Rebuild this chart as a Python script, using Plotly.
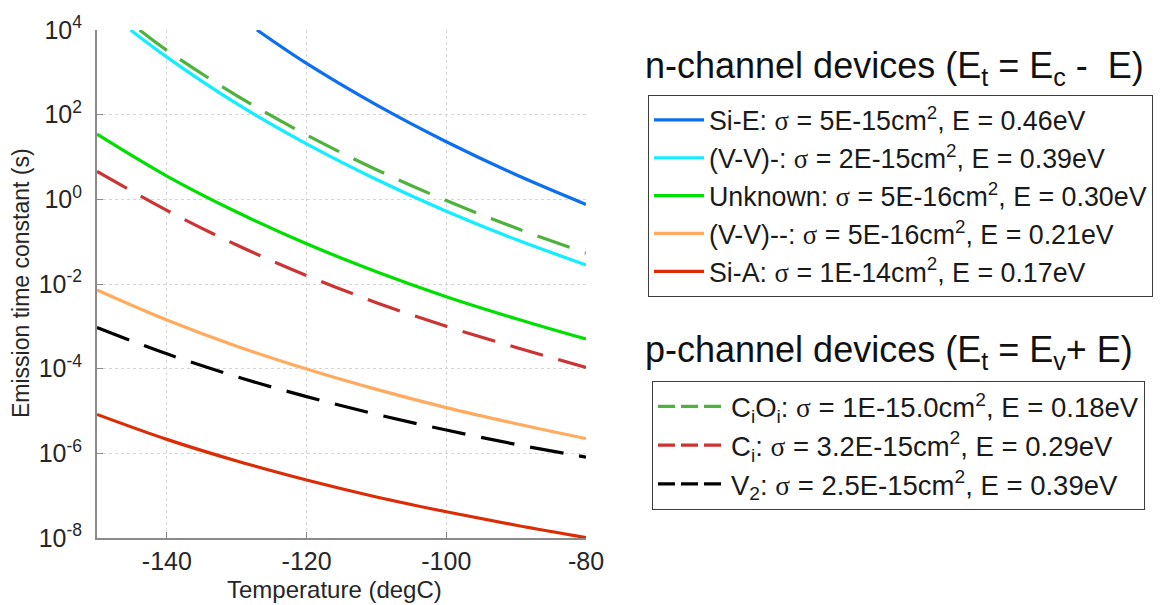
import numpy as np
import plotly.graph_objects as go

# Temperature grid (degC) shared by the curves that span the full axis
temperature_c = [-150, -140, -130, -120, -110, -100, -90, -80]

# log10 of the emission time constant (s); curves leaving the top of the
# axis start where they cross 1e4 s
si_e_temp = [-127.1, -120, -110, -100, -90, -80]
si_e_log = [4.0, 3.21, 2.23, 1.36, 0.58, -0.12]
vv_minus_temp = [-145.2, -140, -130, -120, -110, -100, -90, -80]
vv_minus_log = [4.0, 3.36, 2.26, 1.31, 0.47, -0.28, -0.95, -1.55]
unknown_log = [1.54, 0.55, -0.30, -1.05, -1.71, -2.30, -2.82, -3.30]
vv_2minus_log = [-2.14, -2.85, -3.47, -4.01, -4.49, -4.92, -5.30, -5.65]
si_a_log = [-5.08, -5.67, -6.18, -6.63, -7.03, -7.38, -7.70, -7.99]

cioi_temp = [-143.9, -140, -130, -120, -110, -100, -90, -80]
cioi_log = [4.0, 3.52, 2.45, 1.52, 0.70, -0.03, -0.68, -1.27]
ci_log = [0.66, -0.26, -1.08, -1.80, -2.44, -3.00, -3.50, -3.97]
v2_log = [-3.03, -3.65, -4.19, -4.66, -5.08, -5.45, -5.79, -6.09]

SIG = "<span style='font-family:Liberation Serif'>σ</span>"
n_names = [
    f"Si-E: {SIG} = 5E-15cm<sup>2</sup>, E = 0.46eV",
    f"(V-V)-: {SIG} = 2E-15cm<sup>2</sup>, E = 0.39eV",
    f"Unknown: {SIG} = 5E-16cm<sup>2</sup>, E = 0.30eV",
    f"(V-V)--: {SIG} = 5E-16cm<sup>2</sup>, E = 0.21eV",
    f"Si-A: {SIG} = 1E-14cm<sup>2</sup>, E = 0.17eV",
]
p_names = [
    f"C<sub>i</sub>O<sub>i</sub>: {SIG} = 1E-15.0cm<sup>2</sup>, E = 0.18eV",
    f"C<sub>i</sub>: {SIG} = 3.2E-15cm<sup>2</sup>, E = 0.29eV",
    f"V<sub>2</sub>: {SIG} = 2.5E-15cm<sup>2</sup>, E = 0.39eV",
]

n_series = [
    (si_e_temp, si_e_log, "#0b6ff0"),
    (vv_minus_temp, vv_minus_log, "#12eeff"),
    (temperature_c, unknown_log, "#00e000"),
    (temperature_c, vv_2minus_log, "#ffaa5e"),
    (temperature_c, si_a_log, "#dc2c06"),
]
p_series = [
    (cioi_temp, cioi_log, "#4db33d"),
    (temperature_c, ci_log, "#cc3333"),
    (temperature_c, v2_log, "#000000"),
]

FONT = "Liberation Sans, Arial, sans-serif"
fig = go.Figure()

for name, (tx, ly, color) in zip(n_names, n_series):
    fig.add_trace(go.Scatter(
        x=tx, y=10 ** np.array(ly), mode="lines", name=name,
        legend="legend", legendgroup=name,
        line=dict(color=color, width=3.2, shape="spline", smoothing=1.0),
        hoverinfo="skip",
    ))

for name, (tx, ly, color) in zip(p_names, p_series):
    fig.add_trace(go.Scatter(
        x=tx, y=10 ** np.array(ly), mode="lines", name=name,
        legendgroup=name, showlegend=False,
        line=dict(color=color, width=3.2, shape="spline", smoothing=1.0,
                  dash="34px,16px"),
        hoverinfo="skip",
    ))
    # legend entry with a shorter dash pattern
    fig.add_trace(go.Scatter(
        x=[None], y=[None], mode="lines", name=name,
        legend="legend2", legendgroup=name,
        line=dict(color=color, width=3.2, dash="17px,6px"),
    ))

ytick_exp = [-8, -6, -4, -2, 0, 2, 4]
xtick_vals = [-140, -120, -100, -80]

L, R, T, B = 97, 584, 30, 67
W, H = 1170, 605
pw, ph = W - L - R, H - T - B


def px_x(x):
    return (x - L) / pw


def px_y(y):
    return (H - B - y) / ph


legend_common = dict(
    xanchor="left", yanchor="top",
    bgcolor="white", bordercolor="#3c3c3c", borderwidth=1,
)


def paper_text(text, x, y, size, angle=0, color="#262626"):
    return dict(text=text, xref="paper", yref="paper", x=px_x(x), y=px_y(y),
                xanchor="center" if angle else "left", yanchor="middle",
                textangle=angle, showarrow=False,
                font=dict(family=FONT, size=size, color=color))


x_title = paper_text("Temperature (degC)", 334, 589, 24)
x_title["xanchor"] = "center"
y_title = paper_text("Emission time constant (s)", 21, 283, 23, angle=-90)

fig.update_layout(
    width=W, height=H,
    margin=dict(l=L, r=R, t=T, b=B, autoexpand=False),
    paper_bgcolor="white", plot_bgcolor="white",
    font=dict(family=FONT, color="#262626"),
    legend=dict(x=px_x(648), y=px_y(95), itemwidth=50, tracegroupgap=0,
                font=dict(family=FONT, size=26.8, color="#1a1a1a"),
                **legend_common),
    legend2=dict(x=px_x(652), y=px_y(381), itemwidth=68, tracegroupgap=0,
                 font=dict(family=FONT, size=27.5, color="#1a1a1a"),
                 **legend_common),
    annotations=[
        paper_text("n-channel devices (E<sub>t</sub> = E<sub>c</sub> -  E)",
                   643, 68, 36, color="#111111"),
        paper_text("p-channel devices (E<sub>t</sub> = E<sub>v</sub>+ E)",
                   643, 352, 36, color="#111111"),
        x_title,
        y_title,
    ],
)

fig.update_xaxes(
    range=[-150, -80], automargin=False,
    tickvals=xtick_vals, ticktext=[str(v) for v in xtick_vals],
    showgrid=True, gridcolor="#d4d4d4", griddash="dot", gridwidth=1,
    showline=True, linecolor="#8a8a8a", linewidth=2,
    ticks="inside", ticklen=6, tickcolor="#8a8a8a", tickwidth=1,
    zeroline=False, ticklabelstandoff=0,
    tickfont=dict(family=FONT, size=25, color="#262626"),
)
fig.update_yaxes(
    type="log", range=[-8, 4], automargin=False,
    tickvals=[10.0 ** e for e in ytick_exp],
    ticktext=["10<sup>%d</sup>" % e for e in ytick_exp],
    showgrid=True, gridcolor="#d4d4d4", griddash="dot", gridwidth=1,
    showline=True, linecolor="#8a8a8a", linewidth=2,
    ticks="inside", ticklen=6, tickcolor="#8a8a8a", tickwidth=1,
    zeroline=False, ticklabelstandoff=8,
    tickfont=dict(family=FONT, size=25, color="#262626"),
)

fig.write_html("out.html")
